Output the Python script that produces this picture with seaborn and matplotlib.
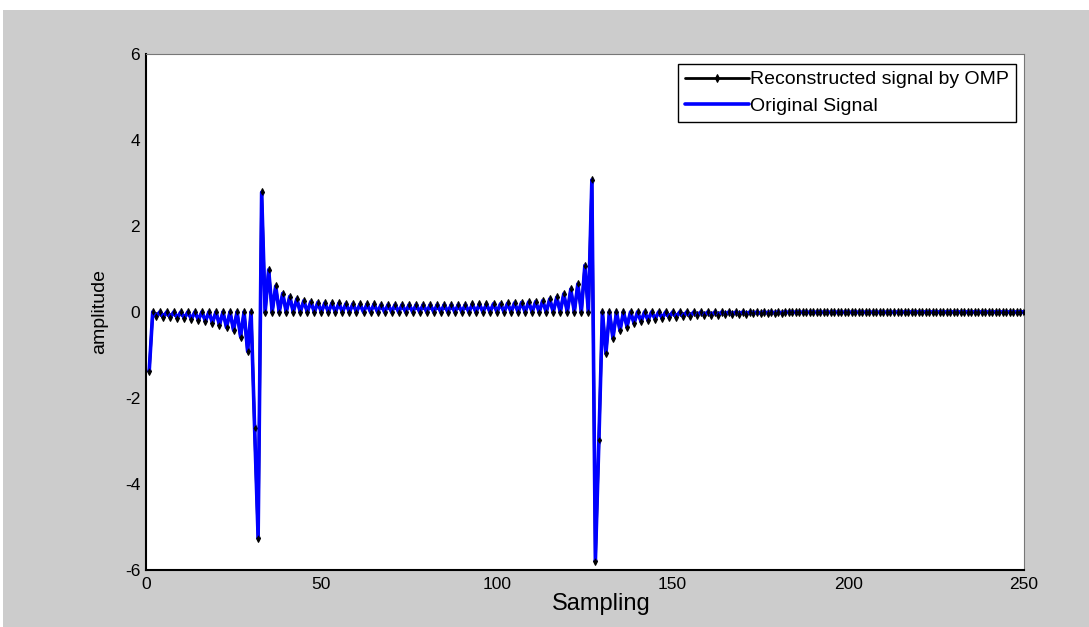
import numpy as np
import pandas as pd
import matplotlib
matplotlib.use("Agg")
import matplotlib.pyplot as plt
import seaborn as sns
from matplotlib.patches import Rectangle

sns.set_style("white")
plt.rcParams["font.family"] = ["Liberation Sans", "DejaVu Sans"]
plt.rcParams["axes.unicode_minus"] = False
plt.rcParams["text.color"] = "black"
plt.rcParams["axes.labelcolor"] = "black"

# ---- data (sample index 1..250) ----
start = [-1.37, 0.0]
left_tail = [-0.10, 0, -0.11, 0, -0.12, 0, -0.13, 0, -0.14, 0, -0.16, 0, -0.18, 0,
             -0.21, 0, -0.25, 0, -0.30, 0, -0.36, 0, -0.42, 0, -0.57, 0, -0.91, 0]
jump1 = [-2.70, -5.25, 2.78, 0.0]
middle = [0.98, 0, 0.60, 0, 0.43, 0, 0.36, 0, 0.30, 0, 0.26, 0, 0.24, 0, 0.22, 0, 0.21, 0, 0.20, 0,
          0.20, 0, 0.19, 0, 0.19, 0, 0.18, 0, 0.18, 0, 0.18, 0, 0.17, 0, 0.17, 0, 0.17, 0, 0.17, 0,
          0.17, 0, 0.17, 0, 0.17, 0, 0.17, 0, 0.17, 0, 0.17, 0, 0.17, 0, 0.17, 0, 0.17, 0, 0.18, 0,
          0.18, 0, 0.18, 0, 0.19, 0, 0.19, 0, 0.20, 0, 0.21, 0, 0.22, 0, 0.23, 0, 0.24, 0, 0.26, 0,
          0.30, 0, 0.34, 0, 0.42, 0, 0.53, 0, 0.65, 0, 1.08, 0]
jump2 = [3.07, -5.78, -2.98, 0.0]
right_tail = [-0.96, 0, -0.61, 0, -0.43, 0, -0.34, 0, -0.26, 0, -0.22, 0, -0.19, 0, -0.16, 0, -0.14, 0, -0.12, 0,
              -0.11, 0, -0.10, 0, -0.09, 0, -0.08, 0, -0.07, 0, -0.07, 0, -0.06, 0, -0.05, 0, -0.05, 0, -0.04, 0,
              -0.04, 0, -0.03, 0, -0.03, 0, -0.02, 0, -0.02, 0, -0.02, 0, -0.01, 0, -0.01, 0, -0.01, 0, -0.01, 0,
              -0.01, 0, -0.01, 0, -0.01, 0, -0.01, 0, -0.01, 0, -0.01, 0, -0.01, 0, -0.01, 0, -0.01, 0, -0.01, 0,
              -0.01, 0, -0.01, 0, -0.01, 0, 0, 0, 0, 0, 0, 0, 0, 0, 0, 0, 0, 0, 0, 0,
              0, 0, 0, 0, 0, 0, 0, 0, 0, 0, 0, 0, 0, 0, 0, 0, 0, 0, 0, 0]

reconstructed = np.array(start + left_tail + jump1 + middle + jump2 + right_tail, dtype=float)
original = np.array(start + left_tail + jump1 + middle + jump2 + right_tail, dtype=float)
samples = np.arange(1, len(reconstructed) + 1)

x_ticks = [0, 50, 100, 150, 200, 250]
y_ticks = [-6, -4, -2, 0, 2, 4, 6]

df = pd.DataFrame({"Sampling": samples, "rec": reconstructed, "orig": original})

W, H = 1089, 627
fig = plt.figure(figsize=(W / 100, H / 100), dpi=100, facecolor="white")
fig.patches.append(Rectangle((3 / W, 0), 1, (H - 10) / H, transform=fig.transFigure,
                             facecolor="#CCCCCC", edgecolor="none", zorder=-10))

left_px, right_px, top_px, bottom_px = 145.7, 1024.0, 54.0, 570.0
ax = fig.add_axes([left_px / W, (H - bottom_px) / H, (right_px - left_px) / W, (bottom_px - top_px) / H])
ax.set_facecolor("white")

sns.lineplot(data=df, x="Sampling", y="rec", color="black", linewidth=2, marker="d",
             markersize=4, markeredgecolor="black", markerfacecolor="black",
             estimator=None, label="Reconstructed signal by OMP", ax=ax, zorder=2)
sns.lineplot(data=df, x="Sampling", y="orig", color="#0000FF", linewidth=2.6,
             estimator=None, label="Original Signal", ax=ax, zorder=3)
sns.scatterplot(data=df, x="Sampling", y="rec", color="black", marker="d", s=11,
                linewidth=0, legend=False, ax=ax, zorder=4)

ax.set_xlim(0, 250)
ax.set_ylim(-6, 6)
ax.set_xticks(x_ticks)
ax.set_yticks(y_ticks)
ax.tick_params(axis="both", direction="in", length=6, width=1, colors="black", labelsize=12.5)
ax.tick_params(axis="x", pad=5)
ax.tick_params(axis="y", pad=4)

for s in ["left", "bottom"]:
    ax.spines[s].set_color("black")
    ax.spines[s].set_linewidth(1.5)
for s in ["top", "right"]:
    ax.spines[s].set_color("#777777")
    ax.spines[s].set_linewidth(0.8)

ax.set_xlabel("Sampling", fontsize=17, color="black")
ax.xaxis.label.set_va("center")
ax.xaxis.set_label_coords((601 - left_px) / (right_px - left_px), -(604 - bottom_px) / (bottom_px - top_px))
ax.set_ylabel("amplitude", fontsize=14, color="black")
ax.yaxis.label.set_va("center")
ax.yaxis.set_label_coords(-(left_px - 100) / (right_px - left_px), 0.5)

leg = ax.legend(loc="upper right", bbox_to_anchor=((1016 - left_px) / (right_px - left_px), (bottom_px - 64) / (bottom_px - top_px)),
                borderaxespad=0, fontsize=14, handlelength=3.3, handletextpad=0.05, numpoints=1,
                fancybox=False, framealpha=1, edgecolor="black", borderpad=0.35, labelspacing=0.45)
leg.get_frame().set_linewidth(1.0)
for t in leg.get_texts():
    t.set_color("black")

fig.savefig("out.png", dpi=100, facecolor=fig.get_facecolor())
